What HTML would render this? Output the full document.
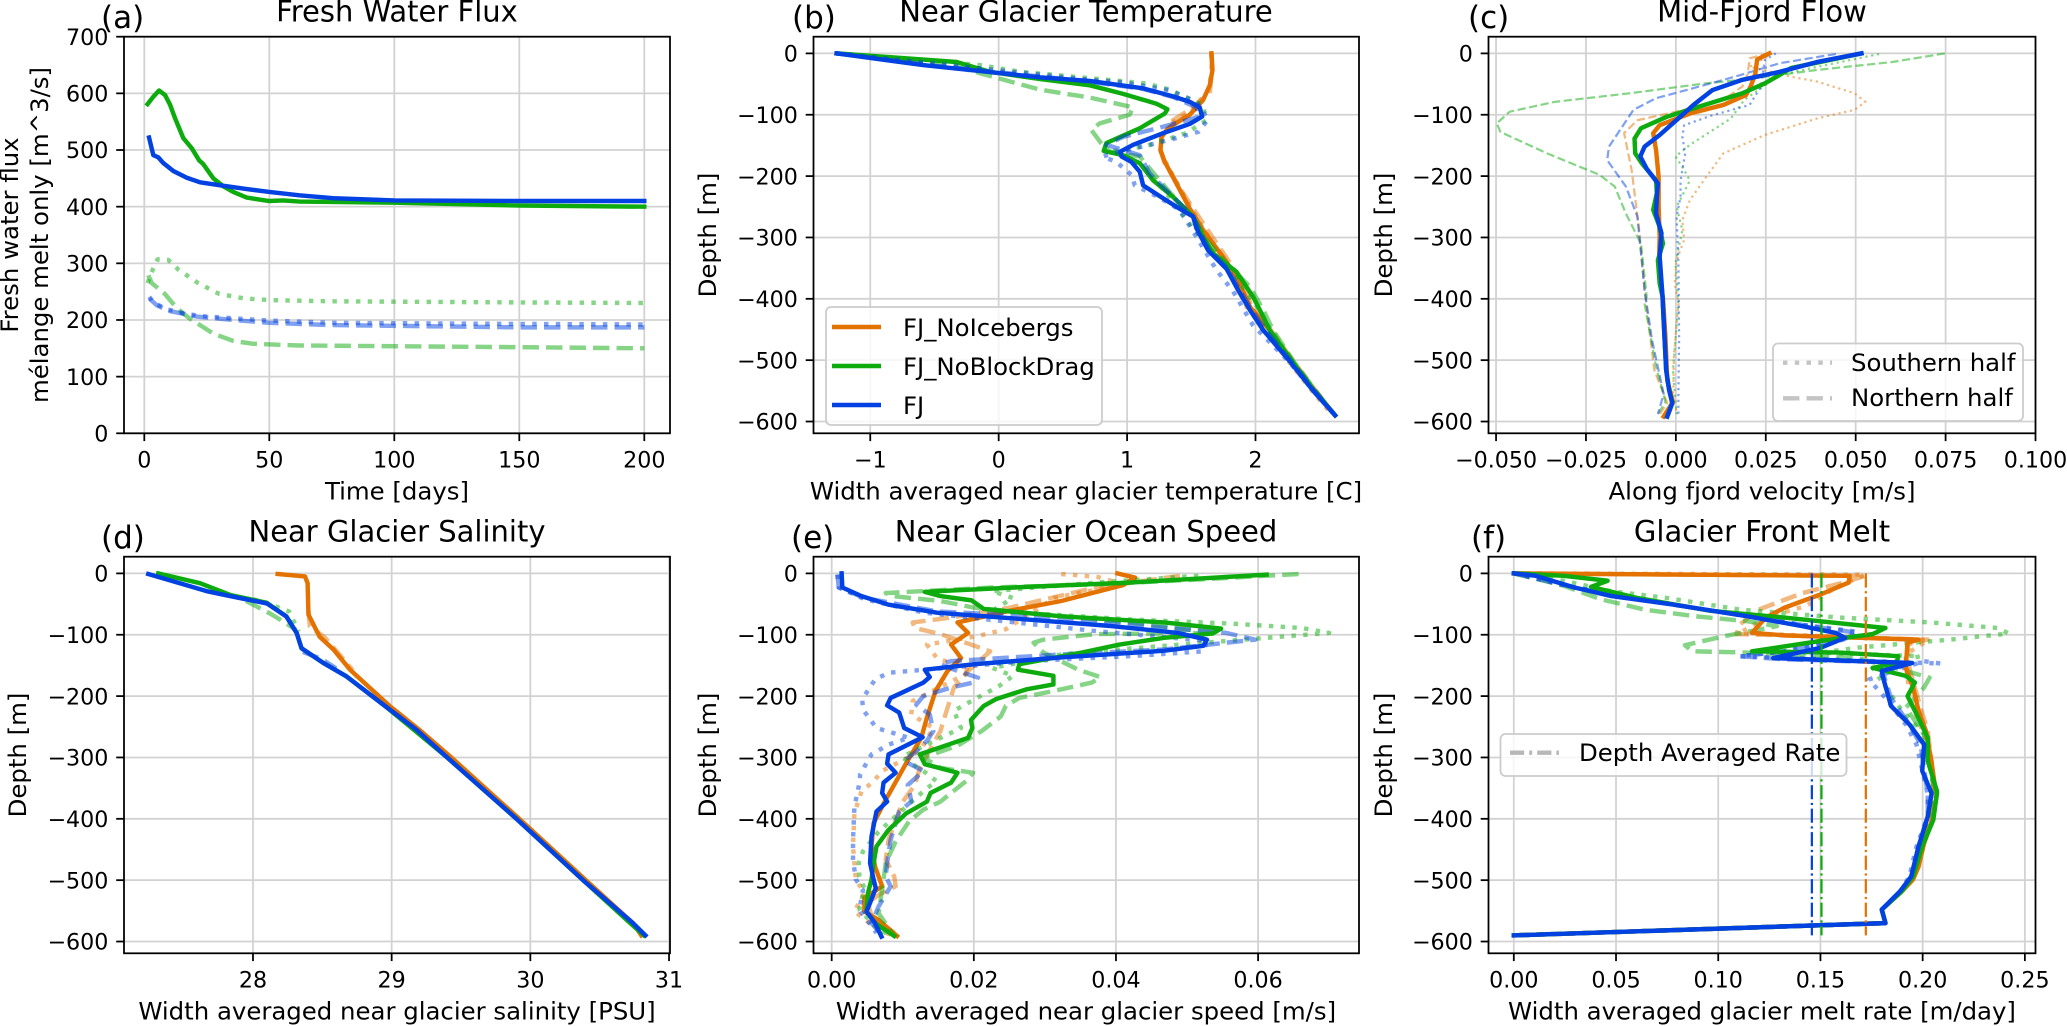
<!DOCTYPE html>
<html lang="en">
<head>
<meta charset="utf-8">
<title>Fjord model comparison</title>
<style>
html,body{margin:0;padding:0;background:#fff;}
svg{display:block;}
text{font-family:"DejaVu Sans","Liberation Sans",sans-serif;fill:#000;}
.title{font-size:29px;text-anchor:middle;}
.plabel{font-size:31px;}
.alabel{font-size:24.4px;text-anchor:middle;}
.tick{font-size:22.2px;}
.leg{font-size:24.4px;}
</style>
</head>
<body>
<svg xmlns="http://www.w3.org/2000/svg" width="2067" height="1026" viewBox="0 0 2067 1026">
<rect width="2067" height="1026" fill="#fff"/>
<g id="plot-a"></g>
<g id="plot-b"></g>
<g id="plot-c"></g>
<g id="plot-d"></g>
<g id="plot-e"></g>
<g id="plot-f"></g>

<text class="title" x="397" y="21.7">Fresh Water Flux</text>
<text class="title" x="1086" y="21.7">Near Glacier Temperature</text>
<text class="title" x="1762" y="21.7">Mid-Fjord Flow</text>
<text class="title" x="397" y="541.7">Near Glacier Salinity</text>
<text class="title" x="1086" y="541.7">Near Glacier Ocean Speed</text>
<text class="title" x="1762" y="541.7">Glacier Front Melt</text>

<text class="plabel" x="101" y="28">(a)</text>
<text class="plabel" x="792" y="28">(b)</text>
<text class="plabel" x="1468" y="28">(c)</text>
<text class="plabel" x="101" y="548">(d)</text>
<text class="plabel" x="791" y="548">(e)</text>
<text class="plabel" x="1471" y="548">(f)</text>

<text class="alabel" x="397" y="499.5">Time [days]</text>
<text class="alabel" x="1086" y="499.5">Width averaged near glacier temperature [C]</text>
<text class="alabel" x="1762" y="499.5">Along fjord velocity [m/s]</text>
<text class="alabel" x="397" y="1019.5">Width averaged near glacier salinity [PSU]</text>
<text class="alabel" x="1086" y="1019.5">Width averaged near glacier speed [m/s]</text>
<text class="alabel" x="1762" y="1019.5">Width averaged glacier melt rate [m/day]</text>

<text class="alabel" transform="translate(18 235) rotate(-90)">Fresh water flux</text>
<text class="alabel" transform="translate(48 235) rotate(-90)">mélange melt only [m^3/s]</text>
<text class="alabel" transform="translate(716 235) rotate(-90)">Depth [m]</text>
<text class="alabel" transform="translate(1392 235) rotate(-90)">Depth [m]</text>
<text class="alabel" transform="translate(26 755) rotate(-90)">Depth [m]</text>
<text class="alabel" transform="translate(716 755) rotate(-90)">Depth [m]</text>
<text class="alabel" transform="translate(1392 755) rotate(-90)">Depth [m]</text>

<g>
  <rect x="826" y="307" width="276" height="118" rx="5" fill="#fff" fill-opacity="0.8" stroke="#ccc" stroke-width="1.8"/>
  <line x1="832" x2="881" y1="327" y2="327" stroke="#e37200" stroke-width="4.44"/>
  <text class="leg" x="903" y="336">FJ_NoIcebergs</text>
  <line x1="832" x2="881" y1="366" y2="366" stroke="#0dab0d" stroke-width="4.44"/>
  <text class="leg" x="903" y="375">FJ_NoBlockDrag</text>
  <line x1="832" x2="881" y1="405" y2="405" stroke="#0241e2" stroke-width="4.44"/>
  <text class="leg" x="903" y="414">FJ</text>
</g>
<g>
  <rect x="1773" y="343.5" width="250" height="77.5" rx="5" fill="#fff" fill-opacity="0.8" stroke="#ccc" stroke-width="1.8"/>
  <line x1="1783" x2="1832" y1="362.7" y2="362.7" stroke="#c4c4c4" stroke-width="4.44" stroke-dasharray="4.44 7.33"/>
  <text class="leg" x="1851" y="371">Southern half</text>
  <line x1="1783" x2="1832" y1="398.3" y2="398.3" stroke="#c4c4c4" stroke-width="4.44" stroke-dasharray="16.4 7.1"/>
  <text class="leg" x="1851" y="406">Northern half</text>
</g>
<g>
  <rect x="1500.5" y="734" width="346" height="42" rx="5" fill="#fff" fill-opacity="0.8" stroke="#ccc" stroke-width="1.8"/>
  <line x1="1510" x2="1559" y1="752.7" y2="752.7" stroke="#b8b8b8" stroke-width="4.44" stroke-dasharray="14.2 5 3 5"/>
  <text class="leg" x="1579" y="761">Depth Averaged Rate</text>
</g>
</svg>
<script>
/* ---------- tick arrays ---------- */
const aXTicks = [0, 50, 100, 150, 200];
const aXTickLabels = ["0", "50", "100", "150", "200"];
const aYTicks = [0, 100, 200, 300, 400, 500, 600, 700];
const aYTickLabels = ["0", "100", "200", "300", "400", "500", "600", "700"];
const depthTicks = [0, -100, -200, -300, -400, -500, -600];
const depthTickLabels = ["0", "\u2212100", "\u2212200", "\u2212300", "\u2212400", "\u2212500", "\u2212600"];
const bXTicks = [-1, 0, 1, 2];
const bXTickLabels = ["\u22121", "0", "1", "2"];
const cXTicks = [-0.05, -0.025, 0, 0.025, 0.05, 0.075, 0.1];
const cXTickLabels = ["\u22120.050", "\u22120.025", "0.000", "0.025", "0.050", "0.075", "0.100"];
const dXTicks = [28, 29, 30, 31];
const dXTickLabels = ["28", "29", "30", "31"];
const eXTicks = [0, 0.02, 0.04, 0.06];
const eXTickLabels = ["0.00", "0.02", "0.04", "0.06"];
const fXTicks = [0, 0.05, 0.1, 0.15, 0.2, 0.25];
const fXTickLabels = ["0.00", "0.05", "0.10", "0.15", "0.20", "0.25"];

/* ---------- panel a: fresh water flux ---------- */
const aGreenSolidDays = [1.3,3.6,5.9,8.3,10.3,12.3,15.6,19,21.9,23.6,27.6,31.6,35.6,41,50,55.6,62,100,150,200];
const aGreenSolidFlux = [581,594,605,597,580,556,521,503,482,475,450,436,426,416,410,411,409,407,402,400];
const aBlueSolidDays = [1.9,3.6,5.6,7.6,11.6,17,22.3,30,41,50,62,75.6,100,150,200];
const aBlueSolidFlux = [522,491,487,477,463,451,443,438,431,426,420,415,411,410,410];
const aGreenDottedDays = [1.3,3.3,5.3,9.6,13.6,21.6,30,40,51,75,150,200];
const aGreenDottedFlux = [265,288,307,306,289,265,246,238,235,233,231,230];
const aGreenDashedDays = [1.6,3,8,13,18,27.6,35.6,43.6,62,150,200];
const aGreenDashedFlux = [279,265,247,221,203,176,163,158,155,152,150];
const aBlueDottedDays = [2,3.6,9,15.6,22,50,75,150,200];
const aBlueDottedFlux = [241,231,219,212,207,199,195,193,192];
const aBlueDashedDays = [2,5,10,21,35.6,50,75,150,200];
const aBlueDashedFlux = [238,226,216,206,200,195,191,187,187];

/* ---------- panel b: near glacier temperature ---------- */
const bOrangeSolidTemp = [1.657,1.665,1.644,1.592,1.488,1.332,1.268,1.26,1.294,1.384,1.488,1.592,1.748,1.852,1.956,2.11,2.27,2.46,2.62];
const bOrangeSolidDepth = [0,-27,-52,-76,-100,-120,-136,-158,-177,-212,-253,-288,-332,-364,-413,-451,-500,-550,-590];
const bOrangeDashedTemp = [1.66,1.66,1.644,1.462,1.358,1.27,1.26,1.29,1.436,1.644,1.787,1.9,1.97,2.12,2.29,2.47,2.62];
const bOrangeDashedDepth = [0,-30,-65,-95,-109,-136,-158,-177,-228,-293,-337,-375,-413,-451,-500,-550,-590];
const bOrangeDottedTemp = [1.655,1.66,1.63,1.5,1.36,1.27,1.26,1.3,1.39,1.5,1.6,1.74,1.84,1.93,2.08,2.25,2.44,2.6];
const bOrangeDottedDepth = [0,-30,-60,-95,-112,-136,-158,-177,-212,-253,-288,-332,-364,-413,-451,-500,-550,-590];
const bGreenSolidTemp = [-1.262,-0.327,-0.2,-0.07,0.33,0.709,0.969,1.229,1.314,1.294,1.099,0.839,0.818,0.969,1.099,1.203,1.358,1.514,1.592,1.67,1.852,1.982,2.06,2.11,2.28,2.46,2.62];
const bGreenSolidDepth = [0,-14,-22,-30,-42,-52,-66,-82,-91,-98,-122,-146,-159,-166,-179,-207,-234,-266,-299,-326,-356,-397,-429,-451,-500,-550,-590];
const bGreenDottedTemp = [-1.262,-0.146,0.166,0.33,0.943,1.15,1.33,1.59,1.618,1.46,1.15,0.865,1.02,1.177,1.306,1.41,1.59,1.826,2.03,2.12,2.28,2.46,2.62];
const bGreenDottedDepth = [0,-19,-30,-33,-45,-49,-59,-84,-109,-130,-151,-160,-168,-196,-228,-258,-304,-359,-418,-451,-500,-550,-590];
const bGreenDashedTemp = [-1.262,-0.327,0.32,0.709,1.047,1.02,0.787,0.722,0.8,0.865,1.099,1.229,1.384,1.514,1.618,1.8,1.956,2.06,2.137,2.29,2.47,2.62];
const bGreenDashedDepth = [0,-22,-59,-72,-88,-100,-114,-125,-147,-160,-168,-201,-239,-266,-304,-348,-380,-418,-451,-500,-550,-590];
const bBlueSolidTemp = [-1.262,-0.59,0.32,0.709,1.125,1.358,1.488,1.566,1.584,1.488,1.28,1.047,0.948,0.956,1.034,1.099,1.125,1.242,1.384,1.514,1.54,1.631,1.774,1.865,1.956,2.06,2.26,2.45,2.62];
const bBlueSolidDepth = [0,-19,-39,-45,-57,-70,-79,-88,-103,-115,-130,-149,-160,-168,-177,-193,-215,-231,-250,-266,-285,-321,-351,-386,-418,-451,-500,-550,-590];
const bBlueDottedTemp = [-1.262,-0.3,0.709,0.969,1.33,1.54,1.63,1.553,1.33,1.175,0.943,0.81,0.917,1.034,1.06,1.242,1.41,1.54,1.696,1.826,1.98,2.25,2.45,2.62];
const bBlueDottedDepth = [0,-21,-43,-47,-60,-79,-108,-128,-141,-149,-160,-168,-177,-198,-215,-234,-255,-299,-353,-388,-443,-500,-550,-590];
const bBlueDashedTemp = [-1.262,-0.5,0.709,1.125,1.358,1.54,1.566,1.255,0.969,0.839,1.099,1.177,1.358,1.514,1.63,1.78,1.96,2.08,2.27,2.46,2.62];
const bBlueDashedDepth = [0,-20,-46,-58,-71,-88,-103,-121,-136,-149,-166,-196,-234,-266,-318,-350,-415,-451,-500,-550,-590];

/* ---------- panel c: mid-fjord flow ---------- */
const cOrangeSolidVel = [0.026,0.0226,0.0221,0.0208,0.0195,0.0132,0.0039,-0.0045,-0.0063,-0.0055,-0.0048,-0.0048,-0.0045,-0.0047,-0.0036,-0.0029,-0.0024,-0.0008,-0.0034];
const cOrangeSolidDepth = [0,-10,-33,-54,-68,-84,-98,-117,-130,-158,-201,-250,-299,-342,-399,-462,-533,-568,-592];
const cOrangeDashedVel = [0.0258,0.0205,0.02,0.0185,0.0143,0.0039,-0.0107,-0.0144,-0.0123,-0.0102,-0.0087,-0.006,-0.0024,-0.0045];
const cOrangeDashedDepth = [0,-8,-33,-54,-71,-90,-109,-130,-190,-288,-386,-516,-570,-588];
const cOrangeDottedVel = [0.0268,0.0205,0.032,0.0393,0.0497,0.0527,0.0497,0.0393,0.0247,0.0132,0.0091,0.0039,0.0018,0.0023,0.0002,-0.0003,0.0007,-0.0005,-0.0008,0.0005];
const cOrangeDottedDepth = [0,-22,-38,-46,-65,-79,-92,-106,-133,-163,-196,-239,-272,-304,-337,-375,-408,-489,-568,-588];
const cGreenSolidVel = [0.0516,0.032,0.0289,0.0247,0.0185,0.008,-0.0024,-0.0097,-0.0115,-0.0113,-0.0095,-0.0055,-0.0053,-0.0063,-0.0045,-0.0036,-0.005,-0.0045,-0.0037,-0.0034,-0.0027,-0.0019,-0.001,-0.0024];
const cGreenSolidDepth = [0,-24,-35,-49,-65,-84,-103,-122,-139,-163,-179,-207,-228,-255,-283,-310,-337,-375,-397,-435,-516,-548,-570,-592];
const cGreenDashedVel = [0.0748,0.0602,0.0393,0.0185,0.008,-0.0128,-0.0337,-0.0462,-0.0498,-0.0488,-0.0358,-0.0212,-0.017,-0.0139,-0.0097,-0.0081,-0.0087,-0.0055,-0.0029,-0.005];
const cGreenDashedDepth = [0,-14,-27,-43,-49,-65,-79,-95,-114,-128,-163,-198,-217,-261,-310,-397,-408,-511,-568,-588];
const cGreenDottedVel = [0.0565,0.0393,0.0289,0.019,0.0153,0.0039,-0.0001,0.0018,0.0039,0.0002,0.0018,-0.0001,0.0007,-0.0008,0.0002];
const cGreenDottedDepth = [-1,-22,-35,-76,-106,-149,-168,-185,-207,-250,-288,-342,-408,-516,-588];
const cBlueSolidVel = [0.0516,0.0393,0.0289,0.0185,0.0101,0.0049,0.0007,-0.0045,-0.0087,-0.0099,-0.0081,-0.005,-0.0053,-0.0055,-0.004,-0.0045,-0.0037,-0.0034,-0.0027,-0.0019,-0.001,-0.0024];
const cBlueSolidDepth = [0,-14,-30,-43,-60,-84,-106,-133,-152,-168,-188,-212,-234,-261,-293,-331,-397,-435,-516,-548,-570,-592];
const cBlueDashedVel = [0.0445,0.0289,0.0164,0.0028,-0.0055,-0.0118,-0.0186,-0.0191,-0.0139,-0.0107,-0.0087,-0.0066,-0.0034,-0.005];
const cBlueDashedDepth = [-1,-16,-38,-60,-73,-92,-152,-174,-217,-266,-386,-468,-555,-588];
const cBlueDottedVel = [0.0278,0.0247,0.0237,0.0205,0.0101,0.0023,0.0018,0.0026,0.0013,0.0013,0.0002,0.0007,0.0009,0.0007,0.0007];
const cBlueDottedDepth = [0,-11,-54,-84,-101,-117,-136,-163,-207,-234,-266,-342,-462,-555,-588];

/* ---------- panel d: near glacier salinity ---------- */
const dOrangeSolidPsu = [28.178,28.375,28.394,28.4,28.48,28.58,28.7,28.99,29.2,29.43,29.92,30.4,30.74,30.8];
const dOrangeSolidDepth = [-1,-5,-16,-67,-103,-124,-157,-217,-255,-300,-400,-500,-570,-590];
const dOrangeDashedPsu = [28.4,28.41,28.52,28.6,28.72];
const dOrangeDashedDepth = [-60,-86,-105,-126,-158];
const dGreenSolidPsu = [27.317,27.618,27.834,28.1,28.24,28.315,28.35,28.507,28.675,28.94,29.16,29.4,29.9,30.38,30.72,30.82];
const dGreenSolidDepth = [0,-16,-35,-48,-70,-97,-122,-146,-168,-214,-255,-300,-400,-500,-570,-590];
const dGreenDashedPsu = [27.95,28.12,28.2,28.31];
const dGreenDashedDepth = [-45,-65,-76,-92];
const dGreenDottedPsu = [28.0,28.14,28.26,28.33];
const dGreenDottedDepth = [-42,-52,-62,-95];
const dBlueSolidPsu = [27.245,27.666,27.834,28.1,28.24,28.315,28.35,28.507,28.675,28.94,29.18,29.4,29.9,30.38,30.74,30.83];
const dBlueSolidDepth = [-1,-29,-37,-49,-70,-97,-122,-146,-168,-214,-255,-300,-400,-500,-570,-590];
const dBlueDashedPsu = [28.36,28.5,28.6];
const dBlueDashedDepth = [-128,-140,-155];

/* ---------- panel e: near glacier speed ---------- */
const eOrangeSolidSpeed = [0.0402,0.0427,0.041,0.0323,0.025,0.0216,0.0177,0.0192,0.0168,0.0182,0.0163,0.0146,0.0134,0.0126,0.0105,0.0092,0.0076,0.0059,0.0056,0.0061,0.0071,0.0046,0.0046,0.0066,0.0092];
const eOrangeSolidDepth = [0,-7,-19,-45,-61,-70,-80,-97,-116,-138,-159,-192,-235,-268,-309,-336,-369,-407,-445,-478,-510,-529,-551,-565,-591];
const eOrangeDashedSpeed = [0.049,0.0371,0.025,0.0168,0.0114,0.0117,0.0153,0.0201,0.0223,0.0192,0.0172,0.0163,0.0153,0.0124,0.0117,0.01,0.008,0.0076,0.0088,0.009,0.0066,0.0051,0.0056,0.0092];
const eOrangeDashedDepth = [-4,-23,-56,-72,-80,-89,-99,-118,-127,-159,-186,-219,-257,-317,-345,-372,-434,-467,-494,-510,-524,-537,-559,-589];
const eOrangeDottedSpeed = [0.0323,0.0375,0.041,0.0313,0.0245,0.0206,0.0134,0.0148,0.0197,0.0114,0.0112,0.0143,0.0124,0.0071,0.0059,0.0042,0.0032,0.003,0.0034,0.0046,0.0032,0.0066,0.0088];
const eOrangeDottedDepth = [-1,-6,-18,-40,-91,-102,-116,-138,-159,-208,-230,-252,-290,-322,-339,-355,-391,-445,-499,-521,-551,-581,-591];
const eGreenSolidSpeed = [0.0612,0.0419,0.0274,0.0131,0.0153,0.0197,0.0214,0.0323,0.0468,0.0548,0.0536,0.0468,0.0405,0.0352,0.0264,0.0262,0.0312,0.0312,0.0274,0.0231,0.0214,0.0196,0.0198,0.0192,0.0124,0.0131,0.0177,0.0168,0.0139,0.0134,0.0105,0.008,0.0063,0.0059,0.0056,0.0051,0.0049,0.0061,0.0088];
const eGreenSolidDepth = [-2,-15,-22,-30,-37,-44,-58,-70,-80,-90,-98,-105,-116,-129,-148,-157,-167,-181,-189,-205,-216,-239,-252,-268,-295,-311,-325,-341,-358,-372,-391,-418,-445,-472,-499,-521,-551,-570,-591];
const eGreenDashedSpeed = [0.0657,0.0516,0.0371,0.0226,0.0076,0.0085,0.0153,0.0201,0.0274,0.0419,0.054,0.0371,0.0298,0.0284,0.0298,0.0347,0.0378,0.0366,0.0323,0.0264,0.0245,0.0238,0.0211,0.0177,0.0129,0.0153,0.0199,0.0192,0.0182,0.0153,0.0129,0.0109,0.009,0.0076,0.0073,0.0066,0.0088];
const eGreenDashedDepth = [-1,-10,-18,-23,-32,-37,-45,-56,-64,-80,-97,-99,-108,-113,-129,-157,-169,-178,-189,-203,-216,-233,-257,-281,-300,-317,-325,-336,-345,-372,-385,-404,-437,-472,-499,-554,-591];
const eGreenDottedSpeed = [0.0516,0.0371,0.0226,0.0255,0.0226,0.0419,0.0565,0.0661,0.07,0.0613,0.0468,0.0323,0.0226,0.0255,0.0235,0.0192,0.0172,0.0182,0.0114,0.0099,0.0129,0.0148,0.0134,0.0105,0.0066,0.0044,0.0038,0.0039,0.0046,0.0039,0.0066,0.0085];
const eGreenDottedDepth = [-4,-15,-29,-40,-61,-75,-82,-89,-97,-105,-118,-132,-154,-167,-184,-211,-224,-252,-290,-300,-322,-339,-350,-380,-421,-453,-472,-494,-513,-548,-581,-591];
const eBlueSolidSpeed = [0.0014,0.0015,0.0042,0.008,0.0148,0.0274,0.0395,0.0487,0.0528,0.0523,0.0468,0.0323,0.0201,0.0131,0.0138,0.0129,0.0083,0.0078,0.0095,0.0102,0.0128,0.008,0.0078,0.009,0.0073,0.0071,0.0078,0.0063,0.0056,0.0054,0.0059,0.0062,0.0054,0.0049,0.0061,0.007];
const eBlueSolidDepth = [0,-23,-37,-51,-64,-75,-86,-97,-108,-118,-126,-137,-148,-157,-169,-178,-203,-215,-227,-252,-267,-295,-310,-325,-341,-358,-372,-388,-429,-472,-499,-513,-537,-551,-570,-592];
const eBlueDashedSpeed = [0.0008,0.001,0.0046,0.0148,0.0323,0.0444,0.0555,0.0596,0.0555,0.0468,0.0323,0.0168,0.0153,0.0177,0.0206,0.0199,0.0168,0.0129,0.0119,0.0138,0.0143,0.0134,0.0119,0.0102,0.0129,0.0107,0.0109,0.0112,0.0095,0.0083,0.0078,0.0076,0.0083,0.0066,0.0056,0.007];
const eBlueDashedDepth = [-2,-23,-40,-62,-72,-86,-97,-108,-113,-124,-132,-143,-148,-159,-170,-178,-186,-200,-214,-230,-257,-273,-290,-306,-322,-345,-353,-372,-388,-434,-472,-494,-510,-543,-570,-589];
const eBlueDottedSpeed = [0.0008,0.001,0.0046,0.013,0.0372,0.0528,0.0523,0.0419,0.0274,0.0131,0.008,0.0061,0.0043,0.0044,0.0063,0.0109,0.008,0.0056,0.0049,0.004,0.0039,0.0032,0.003,0.003,0.0034,0.0044,0.0039,0.0063];
const eBlueDottedDepth = [-2,-23,-42,-64,-94,-110,-127,-135,-143,-157,-162,-173,-205,-222,-252,-268,-279,-295,-309,-328,-342,-380,-434,-467,-499,-516,-548,-586];

/* ---------- panel f: glacier front melt ---------- */
const fOrangeSolidMelt = [0,0.1643,0.1638,0.1503,0.1323,0.1233,0.1165,0.1323,0.198,0.1926,0.1917,0.1953,0.198,0.2016,0.2043,0.2061,0.207,0.2052,0.2007,0.198,0.1953,0.1899,0.18,0.1818,0];
const fOrangeSolidDepth = [0,-4,-15,-34,-56,-72,-97,-101,-108,-113,-154,-186,-224,-257,-306,-349,-358,-396,-440,-478,-499,-518,-548,-570,-590];
const fOrangeDashedMelt = [0,0.1719,0.1611,0.1413,0.1197,0.1107,0.1089,0.1323,0.2025,0.1926,0.1935,0.199,0.2025,0.2043,0.2055,0.2035,0.198,0.1945,0.1895,0.18,0.1818,0];
const fOrangeDashedDepth = [0,-4,-15,-32,-59,-83,-99,-101,-108,-116,-154,-219,-257,-306,-355,-396,-445,-494,-518,-548,-570,-590];
const fOrangeDottedMelt = [0,0.1719,0.1575,0.1431,0.1233,0.1107,0.1323,0.2025,0.1917,0.1935,0.2,0.2043,0.2055,0.2035,0.198,0.1945,0.1895,0.18,0.1818,0];
const fOrangeDottedDepth = [0,-2,-23,-53,-72,-97,-100,-109,-132,-203,-257,-306,-355,-396,-445,-494,-518,-548,-570,-590];
const fGreenSolidMelt = [0,0.0243,0.0459,0.0378,0.0603,0.0963,0.1323,0.1818,0.1755,0.1503,0.1165,0.1593,0.1881,0.1872,0.1755,0.1917,0.1962,0.1926,0.1971,0.2025,0.2025,0.207,0.207,0.2052,0.1998,0.1953,0.1899,0.18,0.1818,0];
const fGreenSolidDepth = [0,-4,-12,-22,-40,-61,-72,-89,-99,-110,-127,-129,-135,-146,-154,-167,-178,-200,-230,-268,-306,-355,-358,-402,-445,-494,-518,-548,-570,-590];
const fGreenDashedMelt = [0,0.0243,0.0423,0.0639,0.0891,0.1143,0.1287,0.1035,0.0837,0.0873,0.1143,0.1683,0.1863,0.2034,0.2007,0.1917,0.2007,0.2035,0.2055,0.2035,0.198,0.1945,0.1895,0.18,0.1818,0];
const fGreenDashedDepth = [0,-20,-42,-59,-70,-78,-86,-102,-117,-127,-129,-138,-154,-170,-186,-219,-262,-306,-355,-396,-445,-494,-518,-548,-570,-590];
const fGreenDottedMelt = [0,0.0243,0.0477,0.0747,0.1107,0.1593,0.2043,0.2367,0.2421,0.2133,0.1683,0.1503,0.1989,0.1755,0.1899,0.2007,0.2035,0.2055,0.2035,0.198,0.1945,0.1895,0.18,0.1818,0];
const fGreenDottedDepth = [0,-12,-29,-40,-59,-72,-80,-89,-98,-108,-121,-129,-135,-154,-224,-262,-306,-355,-396,-445,-494,-518,-548,-570,-590];
const fBlueSolidMelt = [0,0.0108,0.0297,0.0477,0.0783,0.1143,0.1413,0.1575,0.162,0.1503,0.1269,0.1683,0.1949,0.18,0.1809,0.1845,0.1935,0.2007,0.1998,0.2043,0.2043,0.2025,0.198,0.1944,0.189,0.18,0.1818,0];
const fBlueSolidDepth = [0,-4,-23,-37,-51,-70,-86,-97,-105,-121,-138,-143,-146,-159,-173,-216,-246,-279,-322,-358,-360,-396,-445,-494,-518,-548,-570,-590];
const fBlueDashedMelt = [0,0.0297,0.0783,0.1413,0.1683,0.1611,0.1323,0.1107,0.1323,0.1935,0.1809,0.1845,0.1935,0.199,0.2025,0.2025,0.198,0.1944,0.189,0.18,0.1818,0];
const fBlueDashedDepth = [0,-23,-51,-84,-97,-108,-127,-135,-140,-146,-165,-203,-246,-279,-360,-396,-445,-494,-518,-548,-570,-590];
const fBlueDottedMelt = [0,0.0297,0.0783,0.1413,0.1683,0.1575,0.1323,0.1107,0.2088,0.2007,0.1737,0.1818,0.1917,0.197,0.2025,0.2025,0.197,0.1935,0.189,0.18,0.1818,0];
const fBlueDottedDepth = [0,-23,-51,-84,-95,-108,-127,-135,-147,-143,-173,-203,-246,-279,-360,-396,-445,-494,-518,-548,-570,-590];
const fOrangeAverageMelt = [0.1722, 0.1722];
const fGreenAverageMelt = [0.1505, 0.1505];
const fBlueAverageMelt = [0.1458, 0.1458];
const fAverageDepth = [0, -590];

/* ---------- drawing ---------- */
const SVG_NS = "http://www.w3.org/2000/svg";
const ORANGE = "#e37200", GREEN = "#0dab0d", BLUE = "#0241e2";
const STYLES = {
  solid: {w: 4.44, dash: null, op: 1},
  dashed: {w: 4.44, dash: "16.4 7.1", op: 0.5},
  dotted: {w: 4.44, dash: "4.44 7.33", op: 0.5},
  thinDashed: {w: 2.22, dash: "8.2 3.55", op: 0.5},
  thinDotted: {w: 2.22, dash: "2.22 3.66", op: 0.5},
  dashDot: {w: 2.22, dash: "14.2 3.55 2.22 3.55", op: 1}
};
function linear(d0, d1, r0, r1) {
  return function (v) { return r0 + (v - d0) * (r1 - r0) / (d1 - d0); };
}
function node(tag, attrs, parent) {
  const el = document.createElementNS(SVG_NS, tag);
  for (const k in attrs) el.setAttribute(k, attrs[k]);
  parent.appendChild(el);
  return el;
}
const COL1 = [124, 670], COL2 = [813.5, 1359], COL3 = [1488.5, 2035.5];
const ROW1 = [36.7, 433.3], ROW2 = [556.7, 953.3];
const DEPTH_TOP = 27.2, DEPTH_BOTTOM = -619.2;

const panels = [
  {id: "a", col: COL1, row: ROW1, xlim: [-8.12, 210.28], ylim: [0, 700],
   xt: aXTicks, xl: aXTickLabels, yt: aYTicks, yl: aYTickLabels,
   series: [
     [aGreenSolidDays, aGreenSolidFlux, GREEN, "solid", "green-solid"],
     [aGreenDottedDays, aGreenDottedFlux, GREEN, "dotted", "green-dotted"],
     [aGreenDashedDays, aGreenDashedFlux, GREEN, "dashed", "green-dashed"],
     [aBlueSolidDays, aBlueSolidFlux, BLUE, "solid", "blue-solid"],
     [aBlueDottedDays, aBlueDottedFlux, BLUE, "dotted", "blue-dotted"],
     [aBlueDashedDays, aBlueDashedFlux, BLUE, "dashed", "blue-dashed"]
   ]},
  {id: "b", col: COL2, row: ROW1, xlim: [-1.442, 2.806], ylim: [DEPTH_BOTTOM, DEPTH_TOP],
   xt: bXTicks, xl: bXTickLabels, yt: depthTicks, yl: depthTickLabels,
   series: [
     [bOrangeSolidTemp, bOrangeSolidDepth, ORANGE, "solid", "orange-solid"],
     [bOrangeDottedTemp, bOrangeDottedDepth, ORANGE, "dotted", "orange-dotted"],
     [bOrangeDashedTemp, bOrangeDashedDepth, ORANGE, "dashed", "orange-dashed"],
     [bGreenSolidTemp, bGreenSolidDepth, GREEN, "solid", "green-solid"],
     [bGreenDottedTemp, bGreenDottedDepth, GREEN, "dotted", "green-dotted"],
     [bGreenDashedTemp, bGreenDashedDepth, GREEN, "dashed", "green-dashed"],
     [bBlueDottedTemp, bBlueDottedDepth, BLUE, "dotted", "blue-dotted"],
     [bBlueDashedTemp, bBlueDashedDepth, BLUE, "dashed", "blue-dashed"],
     [bBlueSolidTemp, bBlueSolidDepth, BLUE, "solid", "blue-solid"]
   ]},
  {id: "c", col: COL3, row: ROW1, xlim: [-0.0521, 0.1], ylim: [DEPTH_BOTTOM, DEPTH_TOP],
   xt: cXTicks, xl: cXTickLabels, yt: depthTicks, yl: depthTickLabels,
   series: [
     [cOrangeDottedVel, cOrangeDottedDepth, ORANGE, "thinDotted", "orange-dotted"],
     [cOrangeDashedVel, cOrangeDashedDepth, ORANGE, "thinDashed", "orange-dashed"],
     [cGreenDottedVel, cGreenDottedDepth, GREEN, "thinDotted", "green-dotted"],
     [cGreenDashedVel, cGreenDashedDepth, GREEN, "thinDashed", "green-dashed"],
     [cBlueDottedVel, cBlueDottedDepth, BLUE, "thinDotted", "blue-dotted"],
     [cBlueDashedVel, cBlueDashedDepth, BLUE, "thinDashed", "blue-dashed"],
     [cOrangeSolidVel, cOrangeSolidDepth, ORANGE, "solid", "orange-solid"],
     [cGreenSolidVel, cGreenSolidDepth, GREEN, "solid", "green-solid"],
     [cBlueSolidVel, cBlueSolidDepth, BLUE, "solid", "blue-solid"]
   ]},
  {id: "d", col: COL1, row: ROW2, xlim: [27.07, 31.007], ylim: [DEPTH_BOTTOM, DEPTH_TOP],
   xt: dXTicks, xl: dXTickLabels, yt: depthTicks, yl: depthTickLabels,
   series: [
     [dOrangeDashedPsu, dOrangeDashedDepth, ORANGE, "dashed", "orange-dashed"],
     [dGreenDottedPsu, dGreenDottedDepth, GREEN, "dotted", "green-dotted"],
     [dGreenDashedPsu, dGreenDashedDepth, GREEN, "dashed", "green-dashed"],
     [dBlueDashedPsu, dBlueDashedDepth, BLUE, "dashed", "blue-dashed"],
     [dOrangeSolidPsu, dOrangeSolidDepth, ORANGE, "solid", "orange-solid"],
     [dGreenSolidPsu, dGreenSolidDepth, GREEN, "solid", "green-solid"],
     [dBlueSolidPsu, dBlueSolidDepth, BLUE, "solid", "blue-solid"]
   ]},
  {id: "e", col: COL2, row: ROW2, xlim: [-0.00256, 0.0742], ylim: [DEPTH_BOTTOM, DEPTH_TOP],
   xt: eXTicks, xl: eXTickLabels, yt: depthTicks, yl: depthTickLabels,
   series: [
     [eOrangeSolidSpeed, eOrangeSolidDepth, ORANGE, "solid", "orange-solid"],
     [eOrangeDottedSpeed, eOrangeDottedDepth, ORANGE, "dotted", "orange-dotted"],
     [eOrangeDashedSpeed, eOrangeDashedDepth, ORANGE, "dashed", "orange-dashed"],
     [eGreenDottedSpeed, eGreenDottedDepth, GREEN, "dotted", "green-dotted"],
     [eGreenDashedSpeed, eGreenDashedDepth, GREEN, "dashed", "green-dashed"],
     [eBlueDottedSpeed, eBlueDottedDepth, BLUE, "dotted", "blue-dotted"],
     [eBlueDashedSpeed, eBlueDashedDepth, BLUE, "dashed", "blue-dashed"],
     [eGreenSolidSpeed, eGreenSolidDepth, GREEN, "solid", "green-solid"],
     [eBlueSolidSpeed, eBlueSolidDepth, BLUE, "solid", "blue-solid"]
   ]},
  {id: "f", col: COL3, row: ROW2, xlim: [-0.01238, 0.2552], ylim: [DEPTH_BOTTOM, DEPTH_TOP],
   xt: fXTicks, xl: fXTickLabels, yt: depthTicks, yl: depthTickLabels,
   series: [
     [fOrangeDottedMelt, fOrangeDottedDepth, ORANGE, "dotted", "orange-dotted"],
     [fOrangeDashedMelt, fOrangeDashedDepth, ORANGE, "dashed", "orange-dashed"],
     [fGreenDottedMelt, fGreenDottedDepth, GREEN, "dotted", "green-dotted"],
     [fGreenDashedMelt, fGreenDashedDepth, GREEN, "dashed", "green-dashed"],
     [fBlueDottedMelt, fBlueDottedDepth, BLUE, "dotted", "blue-dotted"],
     [fBlueDashedMelt, fBlueDashedDepth, BLUE, "dashed", "blue-dashed"],
     [fOrangeSolidMelt, fOrangeSolidDepth, ORANGE, "solid", "orange-solid"],
     [fGreenSolidMelt, fGreenSolidDepth, GREEN, "solid", "green-solid"],
     [fBlueSolidMelt, fBlueSolidDepth, BLUE, "solid", "blue-solid"],
     [fOrangeAverageMelt, fAverageDepth, ORANGE, "dashDot", "orange-depth-average"],
     [fGreenAverageMelt, fAverageDepth, GREEN, "dashDot", "green-depth-average"],
     [fBlueAverageMelt, fAverageDepth, BLUE, "dashDot", "blue-depth-average"]
   ]}
];

function drawPanel(p) {
  const g = document.getElementById("plot-" + p.id);
  const left = p.col[0], right = p.col[1], top = p.row[0], bottom = p.row[1];
  const sx = linear(p.xlim[0], p.xlim[1], left, right);
  const sy = linear(p.ylim[0], p.ylim[1], bottom, top);
  const gridColor = "#d2d2d2";
  p.xt.forEach(function (v, i) {
    const x = sx(v);
    const gl = node("line", {x1: x, x2: x, y1: top, y2: bottom, stroke: gridColor, "stroke-width": 1.78}, g);
    
    
  });
  p.yt.forEach(function (v, i) {
    const y = sy(v);
    const gl = node("line", {x1: left, x2: right, y1: y, y2: y, stroke: gridColor, "stroke-width": 1.78}, g);
    
    
  });
  p.series.forEach(function (s) {
    const st = STYLES[s[3]];
    const pts = s[0].map(function (v, i) { return sx(v).toFixed(2) + "," + sy(s[1][i]).toFixed(2); }).join(" ");
    const attrs = {points: pts, fill: "none", stroke: s[2], "stroke-width": st.w, "stroke-linejoin": "round", "stroke-opacity": st.op};
    if (st.dash) { attrs["stroke-dasharray"] = st.dash; } else { attrs["stroke-linecap"] = "square"; }
    const line = node("polyline", attrs, g);
    
    
  });
  const frame = node("rect", {x: left, y: top, width: right - left, height: bottom - top, fill: "none", stroke: "#000", "stroke-width": 1.78}, g);
  
  
  p.xt.forEach(function (v, i) {
    const x = sx(v);
    const t = node("line", {x1: x, x2: x, y1: bottom, y2: bottom + 7.8, stroke: "#000", "stroke-width": 1.78}, g);
    
    
    const lab = node("text", {class: "tick", x: x, y: bottom + 34, "text-anchor": "middle"}, g);
    lab.textContent = p.xl[i];
    
    
  });
  p.yt.forEach(function (v, i) {
    const y = sy(v);
    const t = node("line", {x1: left - 7.8, x2: left, y1: y, y2: y, stroke: "#000", "stroke-width": 1.78}, g);
    
    
    const lab = node("text", {class: "tick", x: left - 15.6, y: y + 8.2, "text-anchor": "end"}, g);
    lab.textContent = p.yl[i];
    
    
  });
}
panels.forEach(drawPanel);
</script>
</body>
</html>
